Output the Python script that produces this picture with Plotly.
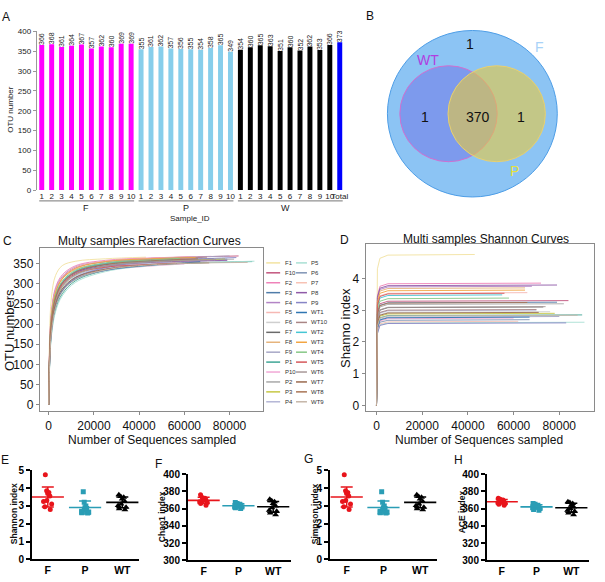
import numpy as np
import plotly.graph_objects as go

FIG_W, FIG_H = 605, 582
FONT = "Liberation Sans"


def fx(p):
    return p / FIG_W


def fy(p):
    return 1 - p / FIG_H


# ---------------- Panel A data ----------------
bar_groups = ['F', 'P', 'W']
bar_ticklabels = ['1', '2', '3', '4', '5', '6', '7', '8', '9', '10']
otu_F = [366, 368, 361, 364, 367, 357, 362, 360, 369, 369]
otu_P = [355, 361, 362, 357, 356, 355, 354, 358, 365, 349]
otu_W = [354, 360, 365, 363, 351, 360, 352, 362, 353, 366]
otu_total = [373]
bar_group_colors = {'F': '#ff00ff', 'P': '#87ceeb', 'W': '#000000', 'Total': '#0000ff'}

# ---------------- Panel B data ----------------
venn_labels = ['F', 'WT', 'P']
venn_F_only = 1
venn_WT_only = 1
venn_P_only = 1
venn_core = 370

# ---------------- Panels C & D data ----------------
sample_names = ['F1', 'F10', 'F2', 'F3', 'F4', 'F5', 'F6', 'F7', 'F8', 'F9',
                'P1', 'P10', 'P2', 'P3', 'P4', 'P5', 'P6', 'P7', 'P8', 'P9',
                'WT1', 'WT10', 'WT2', 'WT3', 'WT4', 'WT5', 'WT6', 'WT7', 'WT8', 'WT9']
sample_colors = ['#f3e3a1', '#c2547d', '#ef82b9', '#4f7ca9', '#b384c6', '#f6b8b4', '#cfcfcf',
                 '#6a6a6a', '#e6b47c', '#a7a7c6', '#3fa696', '#f1a8d6', '#a9a9a9', '#c7c845',
                 '#b4b6d6', '#a9e0d4', '#7f93b5', '#f7c2b4', '#8f5aa8', '#8785c6', '#2f76b2',
                 '#a98585', '#46c6d4', '#f2a542', '#86c786', '#d5575a', '#a89898', '#9a6a4f',
                 '#a97556', '#c5b6a8']
end_depth = [43000, 84000, 72000, 79000, 68000, 66000, 76000, 73000, 65000, 80000,
             90000, 60000, 82000, 78000, 70000, 91000, 67000, 62000, 79000, 83000,
             67000, 70000, 55000, 65000, 58000, 56000, 74000, 71000, 66000, 88000]

rare_depths = [0, 400, 1200, 3000, 6000, 12000, 25000, 45000]
rare_curves = {
    'F1': [0, 170, 265, 320, 345, 356, 362, 365],
    'F10': [0, 130, 220, 280, 315, 340, 355, 363],
    'F2': [0, 140, 230, 290, 322, 345, 358, 364],
    'F3': [0, 120, 205, 265, 302, 330, 348, 356],
    'F4': [0, 135, 225, 285, 318, 342, 355, 361],
    'F5': [0, 130, 222, 282, 316, 341, 356, 363],
    'F6': [0, 110, 195, 255, 292, 320, 340, 351],
    'F7': [0, 118, 205, 265, 300, 328, 347, 356],
    'F8': [0, 128, 218, 278, 312, 336, 350, 356],
    'F9': [0, 115, 200, 262, 300, 330, 350, 361],
    'P1': [0, 95, 175, 235, 275, 308, 333, 347],
    'P10': [0, 105, 185, 245, 283, 313, 333, 344],
    'P2': [0, 112, 197, 258, 296, 325, 345, 355],
    'P3': [0, 108, 192, 253, 292, 322, 343, 354],
    'P4': [0, 112, 196, 256, 293, 321, 340, 351],
    'P5': [0, 92, 170, 230, 270, 304, 330, 345],
    'P6': [0, 105, 187, 248, 287, 317, 337, 348],
    'P7': [0, 102, 184, 245, 284, 314, 335, 347],
    'P8': [0, 125, 212, 270, 303, 328, 344, 353],
    'P9': [0, 100, 182, 243, 283, 315, 340, 355],
    'WT1': [0, 100, 182, 243, 282, 312, 333, 346],
    'WT10': [0, 115, 202, 263, 301, 330, 350, 360],
    'WT2': [0, 120, 207, 268, 304, 332, 350, 357],
    'WT3': [0, 128, 216, 277, 312, 338, 355, 362],
    'WT4': [0, 122, 210, 271, 307, 334, 352, 359],
    'WT5': [0, 118, 203, 262, 298, 325, 341, 348],
    'WT6': [0, 110, 195, 256, 294, 323, 344, 354],
    'WT7': [0, 105, 188, 249, 287, 316, 336, 347],
    'WT8': [0, 118, 204, 265, 302, 330, 348, 357],
    'WT9': [0, 98, 178, 240, 280, 311, 334, 347],
}

shannon_depths = [0, 400, 1500, 5000]
shannon_curves = {
    'F1': [0, 4.30, 4.63, 4.73], 'F10': [0, 2.92, 3.20, 3.28], 'F2': [0, 3.45, 3.75, 3.83],
    'F3': [0, 2.88, 3.15, 3.23], 'F4': [0, 3.38, 3.65, 3.73], 'F5': [0, 3.18, 3.45, 3.53],
    'F6': [0, 2.60, 2.86, 2.93], 'F7': [0, 2.75, 3.00, 3.08], 'F8': [0, 3.32, 3.60, 3.68],
    'F9': [0, 2.45, 2.71, 2.78], 'P1': [0, 2.50, 2.76, 2.83], 'P10': [0, 2.40, 2.66, 2.73],
    'P2': [0, 2.84, 3.10, 3.18], 'P3': [0, 2.55, 2.81, 2.88], 'P4': [0, 2.64, 2.91, 2.98],
    'P5': [0, 2.28, 2.54, 2.60], 'P6': [0, 2.36, 2.62, 2.68], 'P7': [0, 2.31, 2.57, 2.63],
    'P8': [0, 3.40, 3.69, 3.77], 'P9': [0, 2.26, 2.52, 2.58], 'WT1': [0, 2.43, 2.69, 2.76],
    'WT10': [0, 2.66, 2.93, 3.00], 'WT2': [0, 3.10, 3.38, 3.46], 'WT3': [0, 3.25, 3.53, 3.61],
    'WT4': [0, 3.01, 3.28, 3.36], 'WT5': [0, 3.15, 3.43, 3.51], 'WT6': [0, 2.75, 3.01, 3.09],
    'WT7': [0, 2.58, 2.84, 2.91], 'WT8': [0, 2.87, 3.14, 3.22], 'WT9': [0, 2.49, 2.75, 2.82],
}
shannon_final = {
    'F1': 4.75, 'F10': 3.30, 'F2': 3.85, 'F3': 3.25, 'F4': 3.75, 'F5': 3.55, 'F6': 2.95,
    'F7': 3.10, 'F8': 3.70, 'F9': 2.80, 'P1': 2.85, 'P10': 2.75, 'P2': 3.20, 'P3': 2.90,
    'P4': 3.00, 'P5': 2.62, 'P6': 2.70, 'P7': 2.65, 'P8': 3.79, 'P9': 2.60, 'WT1': 2.78,
    'WT10': 3.02, 'WT2': 3.48, 'WT3': 3.63, 'WT4': 3.38, 'WT5': 3.53, 'WT6': 3.11,
    'WT7': 2.93, 'WT8': 3.24, 'WT9': 2.84,
}

# ---------------- Panels E-H data ----------------
dot_groups = ['F', 'P', 'WT']
shannon_idx = {
    'F': [4.75, 3.85, 3.25, 3.75, 3.55, 2.95, 3.10, 3.70, 2.80, 3.30],
    'P': [2.85, 3.20, 2.90, 3.00, 2.62, 2.70, 2.65, 3.79, 2.60, 2.75],
    'WT': [2.78, 3.48, 3.63, 3.38, 3.53, 3.11, 2.93, 3.24, 2.84, 3.02],
}
chao1_idx = {
    'F': [376, 373, 372, 371, 370, 369, 368, 367, 366, 364],
    'P': [367, 366, 365, 364, 364, 363, 362, 362, 361, 360],
    'WT': [371, 369, 368, 366, 363, 361, 358, 357, 355, 353],
}
simpson_idx = {
    'F': [4.75, 3.85, 3.25, 3.75, 3.55, 2.95, 3.10, 3.70, 2.80, 3.30],
    'P': [2.85, 3.20, 2.90, 3.00, 2.62, 2.70, 2.65, 3.79, 2.60, 2.75],
    'WT': [2.78, 3.48, 3.63, 3.38, 3.53, 3.11, 2.93, 3.24, 2.84, 3.02],
}
ace_idx = {
    'F': [372, 371, 370, 369, 368, 368, 367, 366, 365, 364],
    'P': [366, 365, 364, 363, 362, 362, 361, 360, 359, 358],
    'WT': [368, 367, 366, 364, 362, 360, 358, 357, 355, 353],
}
dot_colors = {'F': '#e8141b', 'P': '#2a9db5', 'WT': '#000000'}
dot_symbols = {'F': 'circle', 'P': 'square', 'WT': 'triangle-up'}

# ======================================================
fig = go.Figure()
annotations = []
shapes = []

# ---------- Panel A ----------
bar_cats, bar_vals, bar_cols, bar_ticks = [], [], [], []
for g, vals in zip(bar_groups, [otu_F, otu_P, otu_W]):
    for lab, v in zip(bar_ticklabels, vals):
        bar_cats.append(g + lab)
        bar_vals.append(v)
        bar_cols.append(bar_group_colors[g])
        bar_ticks.append(lab)
bar_cats.append('Total')
bar_vals.append(otu_total[0])
bar_cols.append(bar_group_colors['Total'])
bar_ticks.append('Total')

fig.add_trace(go.Bar(
    x=bar_cats, y=bar_vals, marker=dict(color=bar_cols, line=dict(width=0)),
    text=[str(v) for v in bar_vals], textposition='outside', textangle=-90,
    textfont=dict(size=7, color='#222'), cliponaxis=False, constraintext='none',
    xaxis='x', yaxis='y', showlegend=False))

n_per = len(bar_ticklabels)
for gi, g in enumerate(bar_groups):
    i0 = gi * n_per
    i1 = i0 + n_per - 1 + (1 if g == 'W' else 0)
    shapes.append(dict(type='line', xref='x', yref='paper', x0=i0 - 0.25, x1=i1 + 0.3,
                       y0=fy(199), y1=fy(199), line=dict(color='#777', width=1)))
    annotations.append(dict(xref='x', yref='paper', x=i0 + (n_per - 1) / 2, y=fy(206.5),
                            text=g, showarrow=False, font=dict(size=9, color='#222')))
annotations.append(dict(xref='paper', yref='paper', x=fx(191), y=fy(217), text='Sample_ID',
                        showarrow=False, font=dict(size=8, color='#222')))
annotations.append(dict(xref='paper', yref='paper', x=fx(11), y=fy(105), text='OTU number',
                        textangle=-90, showarrow=False, font=dict(size=8, color='#222')))

# ---------- Panel B (Venn) ----------
shapes.append(dict(type='circle', xref='x2', yref='y2', x0=-85, x1=86, y0=-85, y1=85,
                   fillcolor='rgb(140,196,244)', line=dict(color='#4d9de6', width=1), layer='above'))
shapes.append(dict(type='circle', xref='x2', yref='y2', x0=-72.5, x1=25.5, y0=-49, y1=49,
                   fillcolor='rgba(100,80,225,0.36)', line=dict(color='#d070d0', width=1), layer='above'))
shapes.append(dict(type='circle', xref='x2', yref='y2', x0=-24, x1=74, y0=-49, y1=49,
                   fillcolor='rgba(232,202,62,0.6)', line=dict(color='#e8d070', width=1), layer='above'))
venn_text = [
    (-2, 71, str(venn_F_only), '#111'),
    (68, 68, venn_labels[0], '#a9d2f8'),
    (-44, 55, venn_labels[1], '#b03ee0'),
    (-47, -3, str(venn_WT_only), '#111'),
    (6, -3, str(venn_core), '#111'),
    (49, -3, str(venn_P_only), '#111'),
    (43, -58, venn_labels[2], '#e8e23c'),
]
for x, y, t, c in venn_text:
    annotations.append(dict(xref='x2', yref='y2', x=x, y=y, text=t, showarrow=False,
                            font=dict(size=14, color=c)))

# ---------- Panels C & D ----------
otu_lookup = {}
for i, lab in enumerate(bar_ticklabels):
    otu_lookup['F' + lab] = otu_F[i]
    otu_lookup['P' + lab] = otu_P[i]
    otu_lookup['WT' + lab] = otu_W[i]

for name, col, end in zip(sample_names, sample_colors, end_depth):
    xs = [d for d in rare_depths if d < end] + [end]
    ys = [v for d, v in zip(rare_depths, rare_curves[name]) if d < end] + [otu_lookup[name]]
    fig.add_trace(go.Scatter(x=xs, y=ys, mode='lines', line=dict(color=col, width=1, shape='spline'),
                             opacity=0.9, xaxis='x3', yaxis='y3', showlegend=False, name=name))
for name, col, end in zip(sample_names, sample_colors, end_depth):
    xs = shannon_depths + [end]
    ys = shannon_curves[name] + [shannon_final[name]]
    fig.add_trace(go.Scatter(x=xs, y=ys, mode='lines', line=dict(color=col, width=1),
                             opacity=0.9, xaxis='x4', yaxis='y4', showlegend=False, name=name))

# manual compact legend for C
per_col = 15
for i, (name, col) in enumerate(zip(sample_names, sample_colors)):
    c, r = divmod(i, per_col)
    ypx = 262.3 + 10.13 * r
    lx0 = 268 + 30 * c
    lx1 = 282 + 27 * c
    shapes.append(dict(type='line', xref='paper', yref='paper', x0=fx(lx0), x1=fx(lx1),
                       y0=fy(ypx), y1=fy(ypx), line=dict(color=col, width=1.5)))
    annotations.append(dict(xref='paper', yref='paper', x=fx(lx1 + 2.5), y=fy(ypx), text=name,
                            xanchor='left', showarrow=False, font=dict(size=6, color='#333')))

annotations += [
    dict(xref='paper', yref='paper', x=fx(150), y=fy(240), text='Multy samples Rarefaction Curves',
         showarrow=False, font=dict(size=12, color='#111')),
    dict(xref='paper', yref='paper', x=fx(153), y=fy(443), text='Number of Sequences sampled',
         showarrow=False, font=dict(size=12, color='#111')),
    dict(xref='paper', yref='paper', x=fx(9), y=fy(331), text='OTU numbers', textangle=-90,
         showarrow=False, font=dict(size=13, color='#111')),
    dict(xref='paper', yref='paper', x=fx(489), y=fy(238), text='Multi samples Shannon Curves',
         showarrow=False, font=dict(size=12, color='#111')),
    dict(xref='paper', yref='paper', x=fx(482), y=fy(443), text='Number of Sequences sampled',
         showarrow=False, font=dict(size=12, color='#111')),
    dict(xref='paper', yref='paper', x=fx(348), y=fy(329), text='Shanno index', textangle=-90,
         showarrow=False, font=dict(size=13, color='#111')),
]

# ---------- Panels E-H ----------
dot_panels = [
    ('x5', 'y5', shannon_idx, 'Shannon index', 14, 518),
    ('x6', 'y6', chao1_idx, 'Chao1 index', 163, 521),
    ('x7', 'y7', simpson_idx, 'Simpson index', 317, 518),
    ('x8', 'y8', ace_idx, 'ACE index', 465, 516),
]
for xa, ya, data, title, tx, ty in dot_panels:
    for g in dot_groups:
        vals = data[g]
        fig.add_trace(go.Box(
            x=[g] * len(vals), y=vals, boxpoints='all', jitter=0.55, pointpos=0,
            fillcolor='rgba(0,0,0,0)', line=dict(width=0, color='rgba(0,0,0,0)'),
            whiskerwidth=0,
            marker=dict(color=dot_colors[g], symbol=dot_symbols[g], size=5 if g != 'WT' else 6),
            xaxis=xa, yaxis=ya, showlegend=False))
    for g in dot_groups:
        vals = np.array(data[g], dtype=float)
        m, s = float(vals.mean()), float(vals.std(ddof=1))
        fig.add_trace(go.Scatter(
            x=[g], y=[m], mode='markers',
            marker=dict(symbol='line-ew', size=23, color=dot_colors[g],
                        line=dict(width=1.6, color=dot_colors[g])),
            error_y=dict(type='data', array=[s], width=6, thickness=1.5, color=dot_colors[g]),
            xaxis=xa, yaxis=ya, showlegend=False, cliponaxis=False))
    annotations.append(dict(xref='paper', yref='paper', x=fx(tx), y=fy(ty), text=title,
                            textangle=-90, showarrow=False,
                            font=dict(size=8.5, color='#111', weight='bold')))

# panel letters
for letter, x, y in [('A', 6, 11), ('B', 372, 10), ('C', 8, 240), ('D', 347, 239),
                     ('E', 5, 464), ('F', 160, 468), ('G', 311, 463), ('H', 462, 464)]:
    annotations.append(dict(xref='paper', yref='paper', x=fx(x), y=fy(y), text=letter,
                            showarrow=False, font=dict(size=12, color='#111')))

for a in annotations:
    a.setdefault('xanchor', 'center')
    a.setdefault('yanchor', 'middle')

# ---------- axes ----------
frame = dict(showline=True, mirror=True, linecolor='#8a8a8a', linewidth=1, ticks='outside',
             ticklen=3, tickcolor='#8a8a8a', showgrid=False, zeroline=False,
             tickfont=dict(size=12, color='#111'))
dot_y = dict(showline=True, linecolor='#000', linewidth=1.5, ticks='outside', ticklen=4,
             tickwidth=1.5, tickcolor='#000', showgrid=False, zeroline=False,
             tickfont=dict(size=10, color='#000', weight='bold'))
dot_x = dict(type='category', categoryorder='array', categoryarray=dot_groups, showline=True,
             linecolor='#000', linewidth=1.5, ticks='', showgrid=False, zeroline=False,
             tickfont=dict(size=10.5, color='#000', weight='bold'))

layout = dict(
    width=FIG_W, height=FIG_H, margin=dict(l=0, r=0, t=0, b=0),
    paper_bgcolor='white', plot_bgcolor='white', showlegend=False,
    font=dict(family=FONT, color='#111'), bargap=0.5,
    xaxis=dict(domain=[fx(37), fx(347)], type='category', range=[-0.5, 30.5],
               tickmode='array', tickvals=bar_cats, ticktext=bar_ticks,
               tickfont=dict(size=8, color='#222'), showline=False, ticks='',
               showgrid=False, zeroline=False, anchor='y', tickangle=0),
    yaxis=dict(domain=[fy(188), fy(26)], range=[0, 400], dtick=50, showline=True,
               linecolor='#999', linewidth=1, ticks='outside', ticklen=3, tickcolor='#999',
               tickfont=dict(size=8, color='#222'), showgrid=False, zeroline=False, anchor='x'),
    xaxis2=dict(domain=[fx(380), fx(570)], range=[-95, 95], visible=False, anchor='y2'),
    yaxis2=dict(domain=[fy(200), fy(20)], range=[-90, 90], visible=False, anchor='x2'),
    xaxis3=dict(domain=[fx(40), fx(265)], range=[-3956, 94900], tickvals=[0, 20000, 40000, 60000, 80000],
                ticktext=['0', '20000', '40000', '60000', '80000'], anchor='y3', **frame),
    yaxis3=dict(domain=[fy(414), fy(247)], range=[-17, 389], dtick=50, anchor='x3', **frame),
    xaxis4=dict(domain=[fx(368), fx(598)], range=[-4780, 95200], tickvals=[0, 20000, 40000, 60000, 80000],
                ticktext=['0', '20000', '40000', '60000', '80000'], anchor='y4', **frame),
    yaxis4=dict(domain=[fy(414), fy(243)], range=[-0.185, 5.08], tickvals=[0, 1, 2, 3, 4],
                anchor='x4', **frame),
    xaxis5=dict(domain=[fx(32), fx(140)], range=[-0.43, 2.45], anchor='y5', **dot_x),
    yaxis5=dict(domain=[fy(565), fy(474)], range=[0, 5], dtick=1, anchor='x5', **dot_y),
    xaxis6=dict(domain=[fx(189), fx(293)], range=[-0.457, 2.514], anchor='y6', **dot_x),
    yaxis6=dict(domain=[fy(566), fy(478)], range=[300, 400], dtick=20, anchor='x6', **dot_y),
    xaxis7=dict(domain=[fx(332), fx(440)], range=[-0.46, 2.46], anchor='y7', **dot_x),
    yaxis7=dict(domain=[fy(565), fy(474)], range=[0, 5], dtick=1, anchor='x7', **dot_y),
    xaxis8=dict(domain=[fx(490), fx(593)], range=[-0.43, 2.51], anchor='y8', **dot_x),
    yaxis8=dict(domain=[fy(566), fy(478)], range=[300, 400], dtick=20, anchor='x8', **dot_y),
    annotations=annotations, shapes=shapes,
)
fig.update_layout(**layout)
fig.write_html(
    "out.html",
    config={'displayModeBar': False},
    post_script="document.body.style.margin='0';document.body.style.padding='0';"
                "document.body.style.overflow='hidden';"
                "document.documentElement.style.overflow='hidden';",
)
